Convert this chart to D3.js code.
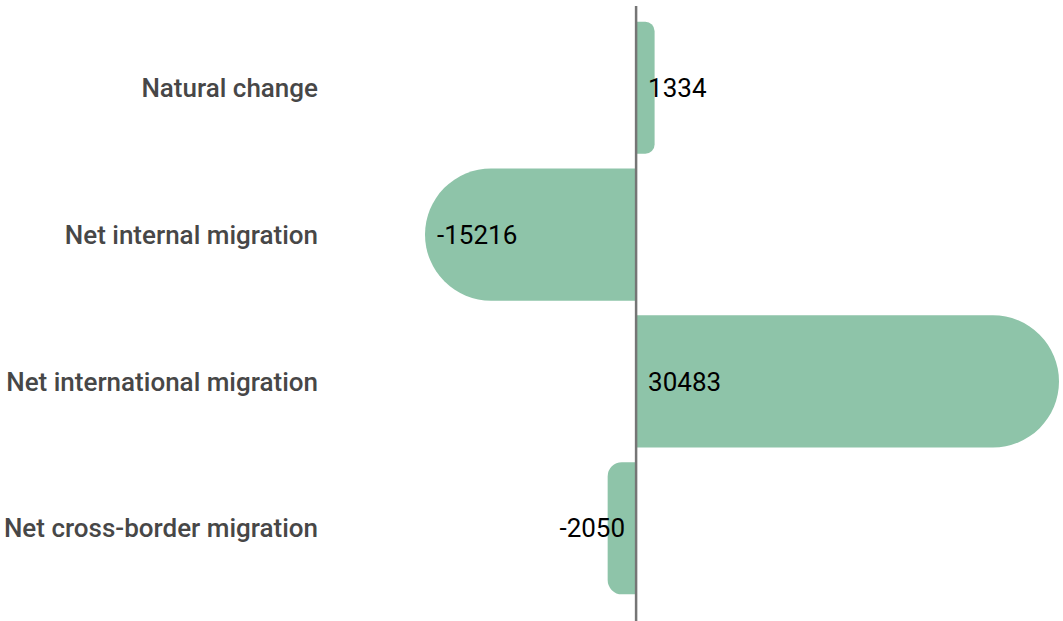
<!DOCTYPE html>
<meta charset="utf-8">
<style>
  body { margin: 0; background: #fff; }
  svg { display: block; font-family: Roboto, sans-serif; }
</style>
<svg width="1063" height="621"></svg>
<script src="https://d3js.org/d3.v7.min.js"></script>
<script>

// data
var categories = ["Natural change", "Net internal migration", "Net international migration", "Net cross-border migration"];
var values = [1334, -15216, 30483, -2050];

var svg = d3.select("svg"),
    width = +svg.attr("width"),
    height = +svg.attr("height");

var x = d3.scaleLinear()
    .domain([d3.min(values), d3.max(values)])
    .range([425, 1059]);

var y = d3.scaleBand()
    .domain(categories)
    .range([7, 609])
    .padding(0.1);

// bar with rounded far end only
function barPath(v, cat) {
  var x0 = x(0), x1 = x(v), y0 = y(cat), h = y.bandwidth();
  var w = Math.abs(x1 - x0);
  var r = Math.min(h / 2, w / 2);
  var s = v >= 0 ? 1 : -1;
  var p = d3.path();
  p.moveTo(x0, y0);
  p.lineTo(x1 - s * r, y0);
  p.arcTo(x1, y0, x1, y0 + r, r);
  p.lineTo(x1, y0 + h - r);
  p.arcTo(x1, y0 + h, x1 - s * r, y0 + h, r);
  p.lineTo(x0, y0 + h);
  p.closePath();
  return p.toString();
}

var data = categories.map(function(c, i) { return {cat: c, v: values[i]}; });

svg.append("g")
  .selectAll("path")
  .data(data)
  .enter().append("path")
    .attr("d", function(d) { return barPath(d.v, d.cat); })
    .attr("fill", "#8ec4a9");

// zero line
svg.append("line")
    .attr("x1", x(0)).attr("x2", x(0))
    .attr("y1", 6).attr("y2", height)
    .attr("stroke", "#757575")
    .attr("stroke-width", 2.5);

// category labels
svg.append("g")
  .selectAll("text")
  .data(data)
  .enter().append("text")
    .attr("x", 318)
    .attr("y", function(d) { return y(d.cat) + y.bandwidth() / 2; })
    .attr("dy", "0.35em")
    .attr("text-anchor", "end")
    .attr("fill", "#474747")
    .attr("font-size", "26px")
    .attr("font-weight", 500)
    .text(function(d) { return d.cat; });

// value labels
svg.append("g")
  .selectAll("text")
  .data(data)
  .enter().append("text")
    .attr("x", function(d) {
      if (d.v < 0 && x(0) - x(d.v) < 100) return x(0) - 11;
      return Math.min(x(0), x(d.v)) + 12;
    })
    .attr("text-anchor", function(d) {
      return (d.v < 0 && x(0) - x(d.v) < 100) ? "end" : "start";
    })
    .attr("y", function(d) { return y(d.cat) + y.bandwidth() / 2; })
    .attr("dy", "0.35em")
    .attr("fill", "#000")
    .attr("font-size", "26px")
    .text(function(d) { return d.v; });

</script>
